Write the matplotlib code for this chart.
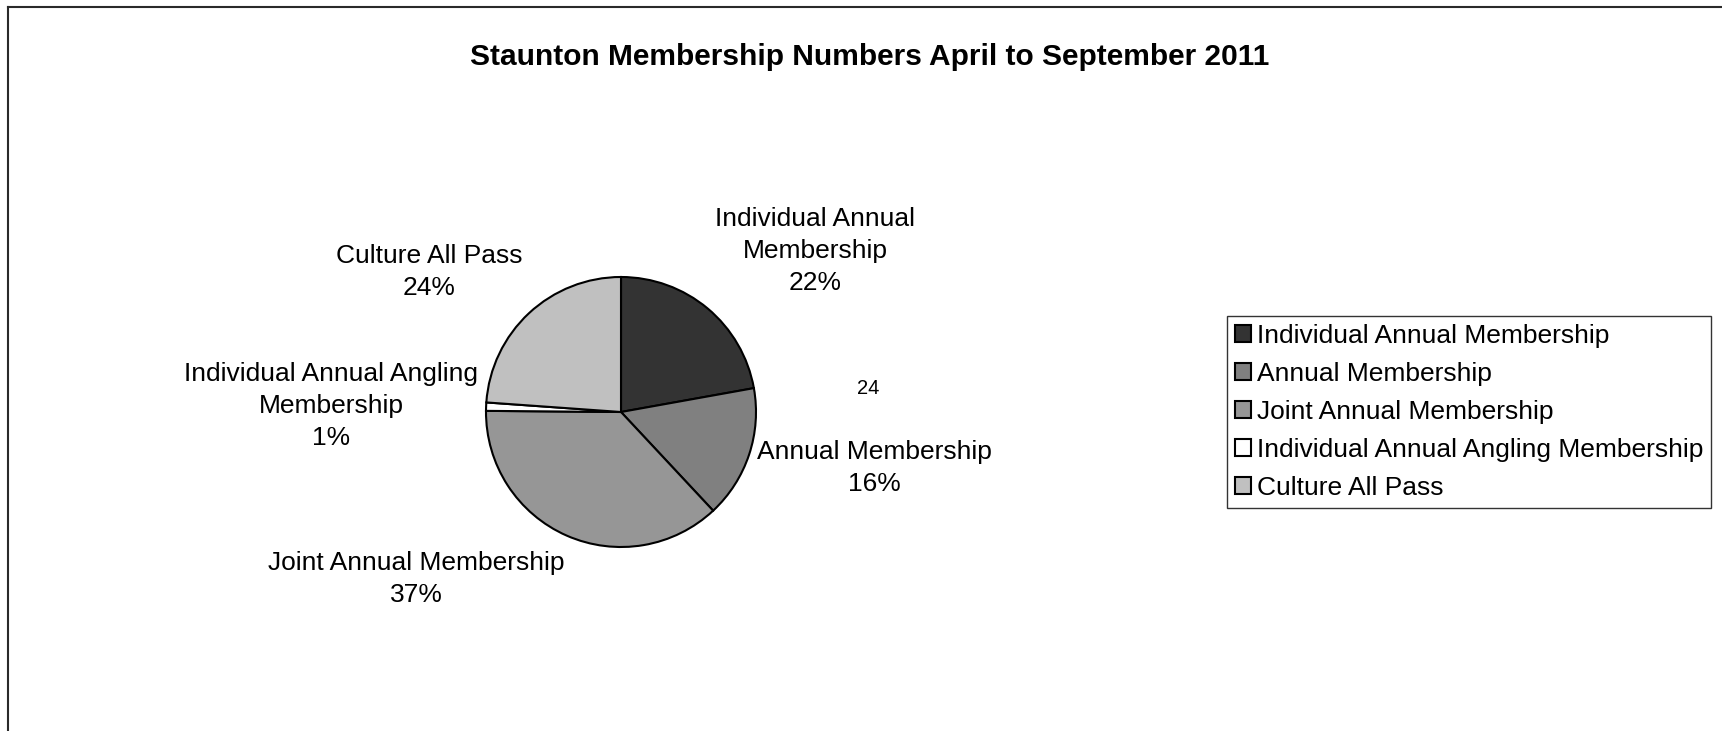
import matplotlib
matplotlib.use("Agg")
import matplotlib.pyplot as plt
from matplotlib.patches import Patch
from matplotlib.lines import Line2D

plt.rcParams['font.family'] = ['Liberation Sans', 'DejaVu Sans']

categories = ["Individual Annual Membership", "Annual Membership",
              "Joint Annual Membership", "Individual Annual Angling Membership",
              "Culture All Pass"]
wrapped_labels = ["Individual Annual\nMembership", "Annual Membership",
                  "Joint Annual Membership", "Individual Annual Angling\nMembership",
                  "Culture All Pass"]
values = [535, 383, 895, 24, 576]
colors = ["#333333", "#808080", "#969696", "#FFFFFF", "#C0C0C0"]
title = "Staunton Membership Numbers April to September 2011"
stray_label = "24"

W, H = 1722, 731
fig = plt.figure(figsize=(W / 100, H / 100), dpi=100)
fig.patch.set_facecolor("white")

def fx(px):
    return px / W

def fy(py):
    return 1 - py / H

# outer chart frame (top and left edges visible)
fig.add_artist(Line2D([fx(7.5), 1.0], [fy(6.5), fy(6.5)], color="#2a2a2a", lw=1.5))
fig.add_artist(Line2D([fx(7.5), fx(7.5)], [0.0, fy(6.5)], color="#2a2a2a", lw=1.5))

fig.text(fx(870), fy(57), title, ha="center", va="center",
         fontsize=21.5, fontweight="bold")

# pie axes: center (621, 412) px, radius 135 px
cx, cy, R = 621, 412, 135
half = 160
ax = fig.add_axes([fx(cx - half), fy(cy + half), 2 * half / W, 2 * half / H])
ax.pie(values, colors=colors, startangle=90, counterclock=False,
       wedgeprops=dict(edgecolor="black", linewidth=1.5))
lim = half / R
ax.set_xlim(-lim, lim)
ax.set_ylim(-lim, lim)
ax.axis("off")

total = sum(values)
label_pos = [(815, 251), (874, 468), (416, 579), (331, 406), (429, 272)]
for lab, v, (px, py) in zip(wrapped_labels, values, label_pos):
    pct = 100.0 * v / total
    fig.text(fx(px), fy(py), f"{lab}\n{pct:.0f}%", ha="center", va="center",
             multialignment="center", fontsize=19, linespacing=1.42)

fig.text(fx(868), fy(388), stray_label, ha="center", va="center", fontsize=14.5)

handles = [Patch(facecolor=c, edgecolor="black", linewidth=1.5) for c in colors]
leg = fig.legend(handles, categories, loc="upper left",
                 bbox_to_anchor=(fx(1227), fy(316)), fontsize=19,
                 frameon=True, fancybox=False, shadow=False,
                 handlelength=0.62, handleheight=0.62, handletextpad=0.2,
                 labelspacing=0.53, borderpad=0.3, borderaxespad=0.0)
leg.get_frame().set_edgecolor("black")
leg.get_frame().set_linewidth(1.0)

fig.savefig("out.png", dpi=100, facecolor="white")
